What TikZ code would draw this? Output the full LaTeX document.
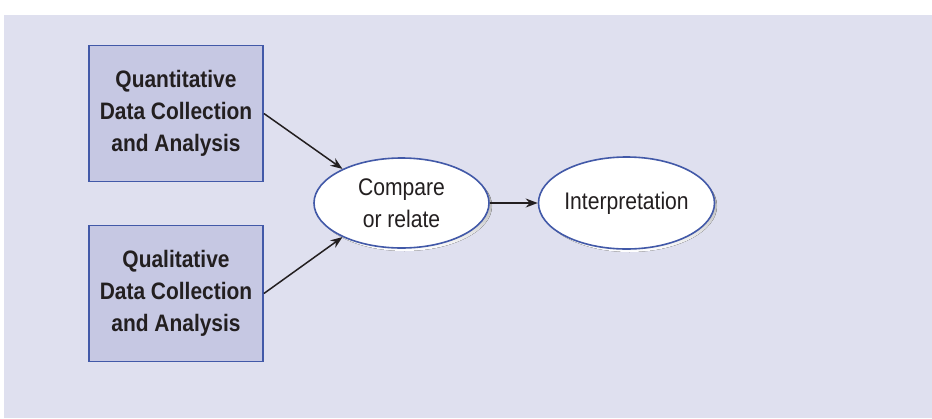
\documentclass[tikz,border=0pt]{standalone}
\usepackage{fontspec}
\setmainfont{Liberation Sans}[FakeStretch=0.88]
\usetikzlibrary{shapes.geometric,arrows.meta}
\definecolor{bgc}{HTML}{DFE0EF}
\definecolor{boxfill}{HTML}{C6C8E3}
\definecolor{edgeblue}{HTML}{4259A8}
\definecolor{ink}{HTML}{231F20}
\definecolor{shade}{HTML}{CACCE4}
\begin{document}
\begin{tikzpicture}[x=1pt,y=1pt,
  databox/.style={rectangle, draw=edgeblue, fill=boxfill, line width=1.8pt,
    minimum width=174pt, minimum height=136pt, align=center, text=ink,
    font=\fontsize{23.8}{32}\selectfont\bfseries},
  oval/.style={ellipse, draw=edgeblue, fill=white, line width=1.6pt,
    minimum width=175pt, minimum height=90pt, inner sep=0pt, align=center, text=ink,
    font=\fontsize{24}{32}\selectfont},
  conn/.style={draw=ink, line width=1.5pt, -{Stealth[length=12pt,width=9pt]}}]
\useasboundingbox (0,0) rectangle (932,-418);
\fill[bgc] (4,-15) rectangle (932,-418);
% shadows of the ovals
\fill[shade] (404.5,-206) ellipse [x radius=87.5, y radius=45];
\fill[shade] (629.5,-206) ellipse [x radius=87.5, y radius=46];
\node[databox] (quan) at (176,-113.5) {Quantitative\\Data Collection\\and Analysis};
\node[databox] (qual) at (176,-293.5) {Qualitative\\Data Collection\\and Analysis};
\node[oval] (cmp) at (401.5,-203) {Compare\\or relate};
\node[oval, minimum height=92pt] (interp) at (626.5,-203) {Interpretation};
\draw[conn] (quan.east) -- (cmp.150);
\draw[conn] (qual.east) -- (cmp.210);
\draw[conn] (cmp.east) -- (interp.west);
\end{tikzpicture}
\end{document}
